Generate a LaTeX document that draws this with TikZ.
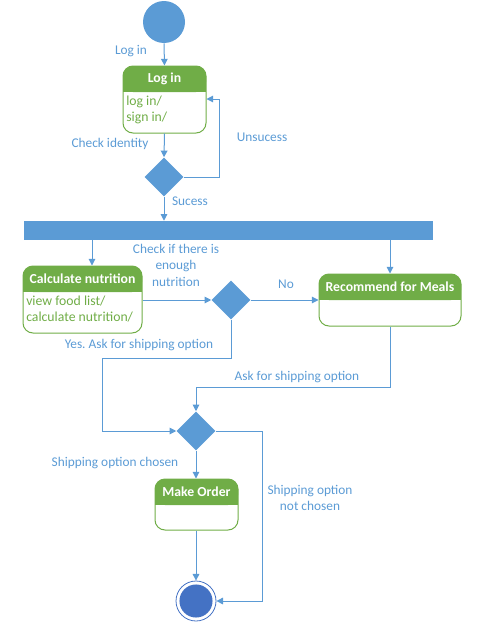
\documentclass[tikz,border=0pt]{standalone}
\usepackage{fontspec}
\setmainfont{Carlito}
\frenchspacing
\usetikzlibrary{arrows.meta,shapes.geometric,fit}
\definecolor{lblue}{HTML}{5B9BD5}
\definecolor{lgreen}{HTML}{70AD47}
\definecolor{dblue}{HTML}{4472C4}
\newcommand\umlbox[7]{%
  \fill[lgreen, rounded corners=7.5pt] (#2,#3) rectangle (#4,#6);
  \fill[lgreen] (#2,{#6-10}) rectangle (#4,#6);
  \node[boxline, fit={(#2,#3) (#4,#5)}] (#1) {};
  \node[titletxt] at ({(#2+#4)/2},{(#3+#6)/2}) {#7};
}
\begin{document}
\begin{tikzpicture}[x=0.75pt,y=-0.75pt,
  boxline/.style={draw=lgreen, line width=0.75pt, rounded corners=7.5pt, inner sep=0pt},
  titletxt/.style={text=white, font=\fontsize{10.3}{12}\selectfont\bfseries, inner sep=0pt},
  bodytxt/.style={text=lgreen, font=\fontsize{10.3}{12}\selectfont, align=left, inner sep=0pt, anchor=north west},
  lbl/.style={text=lblue, font=\fontsize{10}{12.4}\selectfont, align=center, inner sep=0pt},
  arr/.style={draw=lblue, line width=0.75pt, -{Triangle[length=5pt,width=5pt]}},
  dec/.style={diamond, fill=lblue, minimum width=29.25pt, minimum height=29.25pt, inner sep=0pt}
]
\path[use as bounding box] (0,0) rectangle (484,628);

% start
\node[circle, fill=lblue, minimum size=31.5pt, inner sep=0pt] (start) at (164,22) {};

% boxes
\umlbox{login}{123}{66}{206}{133}{92}{Log in}
\node[bodytxt] at (126,96) {log in/\\sign in/};

\node[dec] (d1) at (164,177) {};

\node[fill=lblue, fit={(24,221) (433,240)}, inner sep=0pt] (bar) {};

\umlbox{calc}{23}{266}{142}{333}{292}{Calculate nutrition}
\node[bodytxt] at (26,296) {view food list/\\calculate nutrition/};

\node[dec] (d2) at (231,300) {};

\umlbox{rec}{319}{274}{461}{326}{300}{Recommend for Meals}

\node[dec] (d3) at (196,431) {};

\umlbox{order}{155}{479}{238}{530}{505}{Make Order}

% final
\node[circle, draw=dblue, line width=0.6pt, minimum size=30pt, inner sep=0pt] (final) at (196,601) {};
\fill[dblue] (final.center) circle (12.4pt);

% connectors
\draw[arr] (start.south) -- (login.north);
\draw[arr] (login.south) -- (d1.north);
\draw[arr] (d1.east) -| (219,99) -- (login.east |- 219,99);
\draw[arr] (d1.south) -- (d1.south |- bar.north);
\draw[arr] (bar.south -| 92,0) -- (calc.north -| 92,0);
\draw[arr] (bar.south -| rec.north) -- (rec.north);
\draw[arr] (calc.east |- d2.west) -- (d2.west);
\draw[arr] (d2.east) -- (rec.west |- d2.east);
\draw[arr] (d2.south) |- (102,358) |- (d3.west);
\draw[arr] (rec.south) |- (d3.north |- 0,387) -- (d3.north);
\draw[arr] (d3.south) -- (order.north -| d3.south);
\draw[arr] (order.south -| final.north) -- (final.north);
\draw[arr] (d3.east) -| (262,601) -- (final.east);

% labels
\node[lbl] at (131,51) {Log in};
\node[lbl] at (110,144) {Check identity};
\node[lbl] at (262,137) {Unsucess};
\node[lbl] at (190,201) {Sucess};
\node[lbl] at (176,265) {Check if there is\\enough\\nutrition};
\node[lbl] at (286,284) {No};
\node[lbl] at (139,345) {Yes. Ask for shipping option};
\node[lbl] at (297,377) {Ask for shipping option};
\node[lbl] at (115,463) {Shipping option chosen};
\node[lbl] at (310,498) {Shipping option\\not chosen};
\end{tikzpicture}
\end{document}
